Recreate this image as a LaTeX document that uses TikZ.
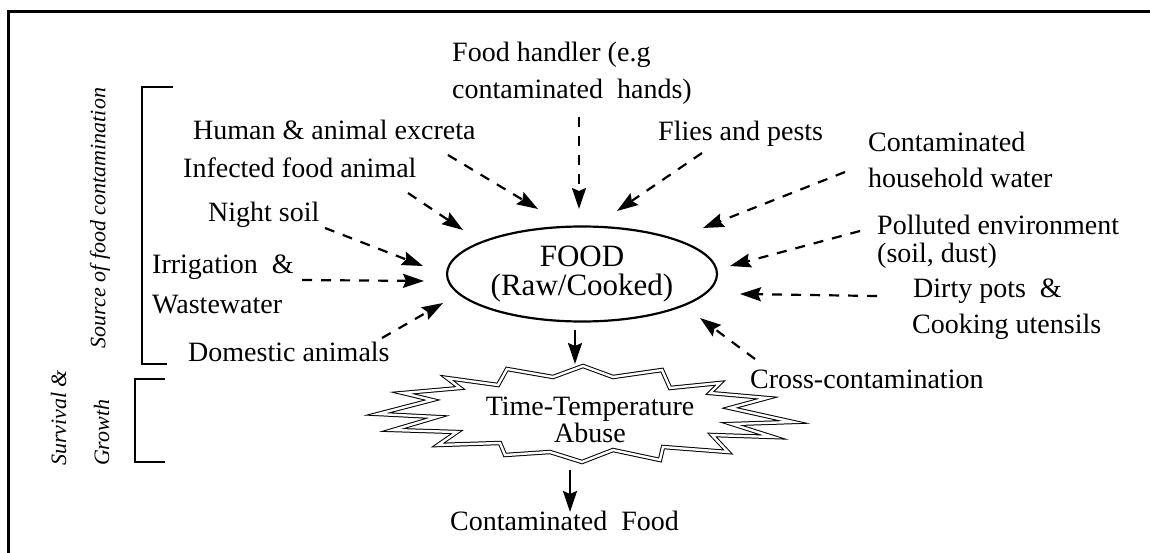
\documentclass[tikz,border=0pt]{standalone}
\usepackage{fontspec}
\setmainfont{Liberation Serif}
\usetikzlibrary{arrows.meta,shapes.geometric}
\begin{document}
\begin{tikzpicture}[x=1pt,y=-1pt,
  lbl/.style={inner sep=0pt, anchor=base west, font=\fontsize{28}{36}\selectfont},
  side/.style={inner sep=0pt, font=\fontsize{22}{43}\selectfont\itshape, rotate=90},
  tip/.style={-{Stealth[length=21pt,width=14pt,inset=3pt]}},
  dasharrow/.style={tip, line width=2.2pt, dash pattern=on 10pt off 9pt},
  solidarrow/.style={tip, line width=2.2pt},
  bracketline/.style={line width=2.2pt},
  frameline/.style={line width=3pt},
  burst/.style={double, double distance=2.4pt, line width=1pt}]
\useasboundingbox (0,0) rectangle (1150,553);

% frame
\coordinate (fc) at (8,12);
\draw[frameline] (1150,12) -- (fc) -- (8,553);

% side brackets and labels
\draw[bracketline] (173,87) -- (142,87) -- (142,364) -- (167,364);
\draw[bracketline] (165,379) -- (135,379) -- (135,462) -- (165,462);
\node[side] (src) at (100,218) {Source of food contamination};
\node[side, align=left] (sg) at (80,418) {Survival \&\\Growth};

% source labels
\node[lbl] (fh1) at (452,62) {Food handler (e.g};
\node[lbl] (fh2) at (452,99) {contaminated\ \ hands)};
\node[lbl] (hx) at (193,140) {Human \& animal excreta};
\node[lbl] (ifa) at (183,178) {Infected food animal};
\node[lbl] (ns) at (208,222) {Night soil};
\node[lbl] (ir1) at (152,273) {Irrigation\ \ \&};
\node[lbl] (ir2) at (152,313) {Wastewater};
\node[lbl] (da) at (188,361) {Domestic animals};
\node[lbl] (fp) at (658,141) {Flies and pests};
\node[lbl] (cw1) at (868,152) {Contaminated};
\node[lbl] (cw2) at (868,188) {household water};
\node[lbl] (pe1) at (877,235) {Polluted environment};
\node[lbl] (pe2) at (877,262) {(soil, dust)};
\node[lbl] (dp1) at (913,297) {Dirty pots\ \ \&};
\node[lbl] (dp2) at (912,333) {Cooking utensils};
\node[lbl] (cc) at (750,388) {Cross-contamination};
\node[lbl] (cf) at (450,530) {Contaminated\ \ Food};

% food ellipse
\node[draw, ellipse, line width=2.2pt, minimum width=270pt, minimum height=95pt,
      inner sep=0pt, align=center, font=\fontsize{31}{29}\selectfont] (food) at (582,274) {FOOD\\(Raw/Cooked)};

% burst
\draw[burst] (583,366) -- (613,377) -- (662,370) -- (670,388) -- (720,383) -- (710,393)
  -- (767,398) -- (730,408) -- (793,422) -- (732,424) -- (773,437) -- (712,435)
  -- (728,452) -- (663,447) -- (660,460) -- (613,450) -- (582,462) -- (550,452)
  -- (505,455) -- (500,443) -- (438,445) -- (457,432) -- (393,430) -- (437,417)
  -- (378,414) -- (432,400) -- (403,393) -- (460,388) -- (447,378) -- (498,385)
  -- (507,369) -- (553,377) -- cycle;
\node[inner sep=0pt, align=center, font=\fontsize{28}{25}\selectfont] (tta) at (590,420) {Time-Temperature\\Abuse};

% arrow end points
\coordinate (s1) at (579,117);  \coordinate (e1) at (579,209);
\coordinate (s2) at (448,155);  \coordinate (e2) at (538,209);
\coordinate (s3) at (408,193);  \coordinate (e3) at (463,230);
\coordinate (s4) at (325,228);  \coordinate (e4) at (423,266);
\coordinate (s5) at (302,280);  \coordinate (e5) at (424,281);
\coordinate (s6) at (382,338);  \coordinate (e6) at (443,303);
\coordinate (s7) at (702,153);  \coordinate (e7) at (617,211);
\coordinate (s8) at (845,172);  \coordinate (e8) at (703,228);
\coordinate (s9) at (860,231);  \coordinate (e9) at (730,266);
\coordinate (s10) at (877,296); \coordinate (e10) at (740,294);
\coordinate (s11) at (755,359); \coordinate (e11) at (700,318);
\coordinate (s12) at (575,330); \coordinate (e12) at (575,364);
\coordinate (s13) at (570,470); \coordinate (e13) at (570,512);

\foreach \i in {1,...,11} {\draw[dasharrow] (s\i) -- (e\i);}
\draw[solidarrow] (s12) -- (e12);
\draw[solidarrow] (s13) -- (e13);
\end{tikzpicture}
\end{document}
